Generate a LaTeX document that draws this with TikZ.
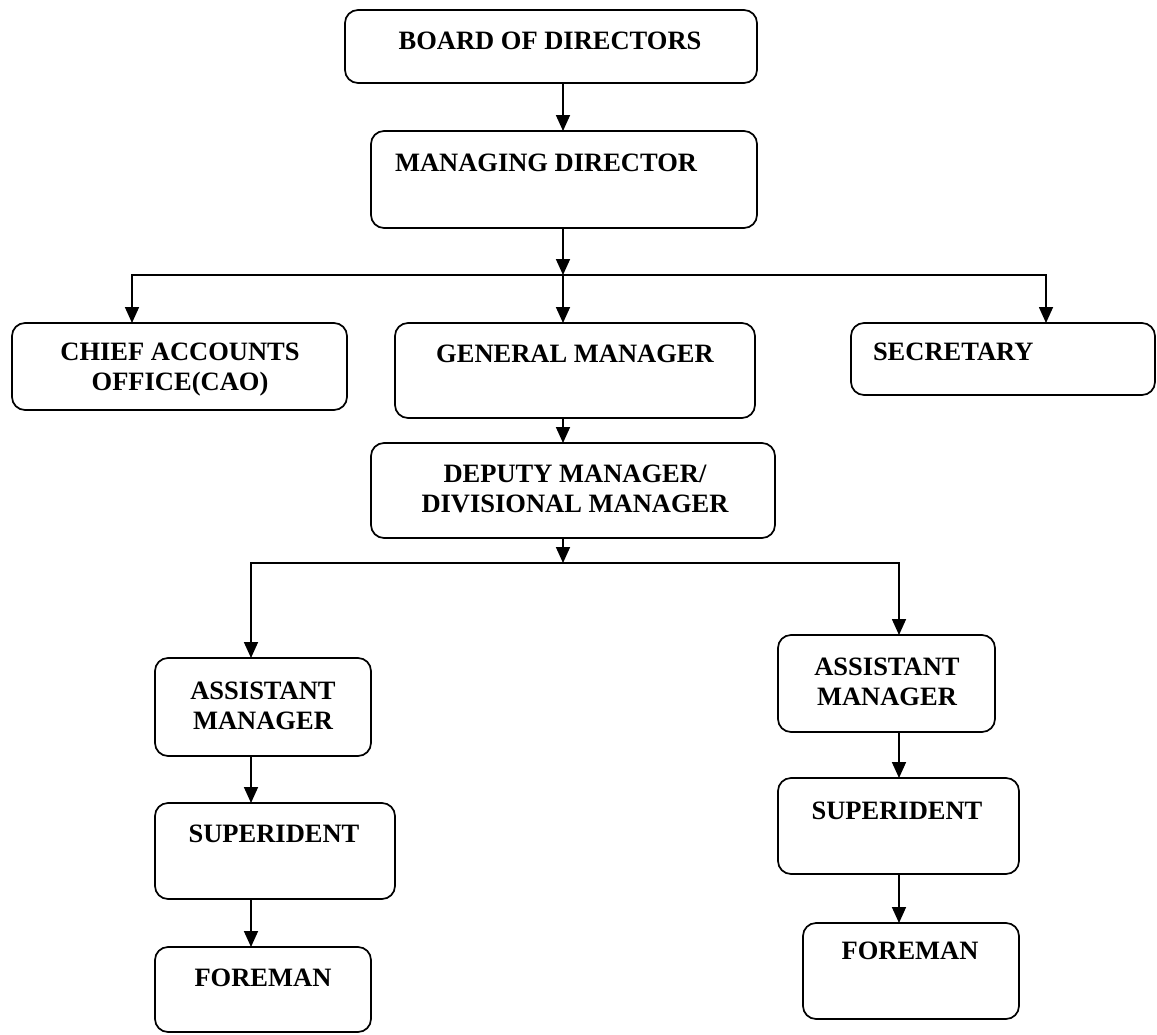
\documentclass[tikz,border=0pt]{standalone}
\usepackage{fontspec}
\setmainfont{Liberation Serif}
\usetikzlibrary{arrows.meta}
\begin{document}
\begin{tikzpicture}[x=1pt,y=-1pt,
  box/.style={draw, line width=1.7pt, rounded corners=13pt, inner sep=0pt, outer sep=0pt},
  lbl/.style={inner sep=0pt, outer sep=0pt, align=center, font=\fontsize{26.5}{30}\selectfont\bfseries},
  arr/.style={line width=1.7pt, -{Triangle[length=16pt,width=14pt]}}]
\useasboundingbox (0,0) rectangle (1157,1034);
% boxes
\node[box, minimum width=412pt, minimum height=73pt] (bod) at (551,46.5) {};
\node[box, minimum width=386pt, minimum height=97pt] (md) at (564,179.5) {};
\node[box, minimum width=335pt, minimum height=87pt] (cao) at (179.5,366.5) {};
\node[box, minimum width=360pt, minimum height=95pt] (gm) at (575,370.5) {};
\node[box, minimum width=304pt, minimum height=72pt] (sec) at (1003,359) {};
\node[box, minimum width=404pt, minimum height=95pt] (dm) at (573,490.5) {};
\node[box, minimum width=216pt, minimum height=98pt] (aml) at (263,707) {};
\node[box, minimum width=240pt, minimum height=96pt] (supl) at (275,851) {};
\node[box, minimum width=216pt, minimum height=85pt] (forl) at (263,989.5) {};
\node[box, minimum width=217pt, minimum height=97pt] (amr) at (886.5,683.5) {};
\node[box, minimum width=241pt, minimum height=96pt] (supr) at (898.5,826) {};
\node[box, minimum width=216pt, minimum height=96pt] (forr) at (911,971) {};
% labels
\node[lbl, anchor=north] (bodt) at (550,32) {BOARD OF DIRECTORS};
\node[lbl, anchor=north west] (mdt) at (395,154) {MANAGING DIRECTOR};
\node[lbl, anchor=north] (caot) at (180,343) {CHIEF ACCOUNTS\\OFFICE(CAO)};
\node[lbl, anchor=north] (gmt) at (575,345) {GENERAL MANAGER};
\node[lbl, anchor=north west] (sect) at (873,343) {SECRETARY};
\node[lbl, anchor=north] (dmt) at (575,465) {DEPUTY MANAGER/\\DIVISIONAL MANAGER};
\node[lbl, anchor=north] (amlt) at (263,682) {ASSISTANT\\MANAGER};
\node[lbl, anchor=north] (suplt) at (274,825) {SUPERIDENT};
\node[lbl, anchor=north] (forlt) at (263,969) {FOREMAN};
\node[lbl, anchor=north] (amrt) at (887,658) {ASSISTANT\\MANAGER};
\node[lbl, anchor=north] (suprt) at (897,802) {SUPERIDENT};
\node[lbl, anchor=north] (forrt) at (910,942) {FOREMAN};
% bus coordinates
\coordinate (b1c) at (563,275);
\coordinate (b1l) at (132,275);
\coordinate (b1r) at (1046,275);
\coordinate (b2c) at (563,563);
\coordinate (b2l) at (251,563);
\coordinate (b2r) at (899,563);
% connectors
\draw[arr] (bod.south -| b1c) -- (md.north -| b1c);
\draw[arr] (md.south -| b1c) -- (b1c);
\draw[arr] (b1c) -- (gm.north -| b1c);
\draw[arr] (b1c) -- (b1l) -- (cao.north -| b1l);
\draw[arr] (b1c) -- (b1r) -- (sec.north -| b1r);
\draw[arr] (gm.south -| b1c) -- (dm.north -| b1c);
\draw[arr] (dm.south -| b2c) -- (b2c);
\draw[arr] (b2c) -- (b2l) -- (aml.north -| b2l);
\draw[arr] (b2c) -- (b2r) -- (amr.north -| b2r);
\draw[arr] (aml.south -| b2l) -- (supl.north -| b2l);
\draw[arr] (supl.south -| b2l) -- (forl.north -| b2l);
\draw[arr] (amr.south -| b2r) -- (supr.north -| b2r);
\draw[arr] (supr.south -| b2r) -- (forr.north -| b2r);
\end{tikzpicture}
\end{document}
